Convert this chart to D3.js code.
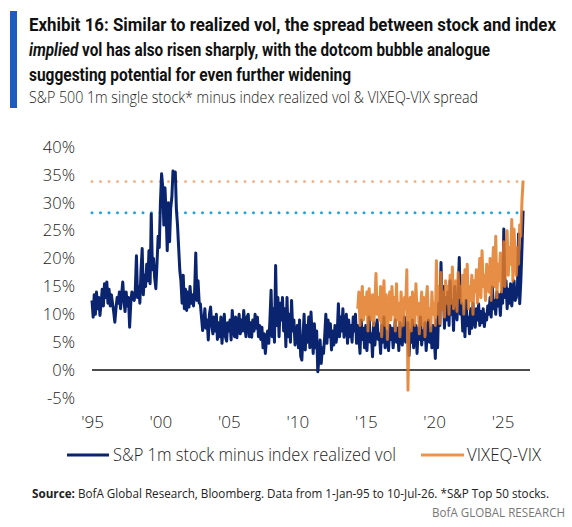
<!DOCTYPE html>
<html><head><meta charset="utf-8">
<script src="https://cdn.jsdelivr.net/npm/d3@7"></script>
<style>body{margin:0;background:#fff}svg{display:block}</style>
</head><body>
<svg id="c" width="572" height="527"></svg>
<script>
// ---------------- DATA ----------------
// Monthly, starting Jan-1995: S&P 1m single stock minus index realized vol (%)
const blueStartYear = 1995, blueStartMonth = 0;
const blueVals = [
  // 1995
  12.5, 9.5, 13.5, 10, 14, 11, 13, 9.8, 12, 14.5, 11.5, 15.5,
  // 1996
  13, 15.8, 12, 14.5, 11.5, 13.5, 12, 10.5, 8.6, 11, 13, 12,
  // 1997
  14, 11, 13.5, 15.8, 12.5, 10.5, 14, 11.5, 13, 7.7, 12, 14,
  // 1998
  13, 12.5, 14.3, 20.5, 13, 15, 12, 17.9, 21.8, 13.5, 17, 15,
  // 1999
  19, 16, 21.4, 15.5, 28, 18, 20, 16.5, 14.6, 19, 24, 22,
  // 2000
  30, 35.2, 33, 26, 32.7, 28, 21.4, 30, 23, 29, 31, 35.7,
  // 2001
  34, 35.5, 29, 26, 22, 17.9, 16, 12, 17, 11, 14.5, 10.7,
  // 2002
  14, 11.3, 15, 12, 13.5, 11.5, 14, 21, 12.5, 16, 12, 11.9,
  // 2003
  9.5, 7.1, 8.5, 11, 7.5, 9, 5.4, 10, 11.3, 8, 6.5, 9.5,
  // 2004
  7, 10, 5.5, 8.5, 6, 9.5, 4.8, 8, 10, 6, 5.2, 8.5,
  // 2005
  7, 9, 5.4, 10.7, 7.5, 6, 9.5, 5.8, 8, 10, 6.5, 9,
  // 2006
  7, 10.7, 8, 6, 9.5, 10, 6, 8.5, 5.9, 9, 7, 10,
  // 2007
  7.5, 9.5, 6, 8, 5.5, 7.7, 4, 6.5, 3, 5.5, 7, 4.8,
  // 2008
  9, 14.3, 6, 11, 5, 18.75, 8, 13, 6, 12, 9, 13,
  // 2009
  7, 11, 4.2, 13, 6, 10, 5, 12.5, 7, 9, 4.5, 6,
  // 2010
  8, 4, 9, 2.5, 1.8, 6, 10, 3.6, 8, 5, 9.5, 4,
  // 2011
  10.4, 6, 3, 8.3, 4, 7, -0.3, 2, 5.4, 1.2, 4, 3,
  // 2012
  6, 10, 4.8, 9, 6, 8.3, 3.6, 7, 4.5, 8, 5, 6.5,
  // 2013
  11.9, 6, 9.5, 7, 11, 5.9, 8.5, 10, 4.8, 9, 6, 8,
  // 2014
  5, 9.5, 7, 10, 4.8, 8, 6, 3, 9, 5.5, 7.5, 4,
  // 2015
  8, 3.5, 7, 9.5, 5, 6.5, 2.4, 8.5, 4.5, 7, 9, 5.5,
  // 2016
  6.5, 3, 8, 5, 9.5, 4, 7, 6, 3.5, 8, 5.5, 7.5,
  // 2017
  4, 6.5, 9, 5, 7.5, 3.5, 8.5, 6, 4.5, 7, 9.5, 5,
  // 2018
  6, 8.5, 2.6, 7, 5, 9, 4, 6.5, 8, 3, 7.5, 5.5,
  // 2019
  9.5, 4.5, 7, 5.5, 8.5, 3.5, 6.5, 9, 5, 7.5, 4, 8,
  // 2020
  6, 2.1, 9, 4, 12, 8, 19.3, 11, 15, 7.5, 13, 9,
  // 2021
  14, 8, 16, 10, 12.5, 7.1, 15, 11, 9, 13.5, 20.2, 10,
  // 2022
  12, 7, 10.5, 6, 12.5, 8, 9.5, 6.5, 11, 7.5, 12, 9,
  // 2023
  7.7, 11, 9, 11.9, 8, 10.5, 8.5, 11, 7.8, 10, 9, 11.5,
  // 2024
  10, 13, 9.5, 14.9, 11, 12.5, 10, 14, 11.5, 13.5, 9.8, 14,
  // 2025
  12, 25.3, 13, 16, 11, 14.5, 12, 15.5, 11.5, 14, 16, 12.5,
  // 2026
  13, 15, 24.4, 11.9, 16, 22, 28.6
];

// Monthly, starting Jun-2014: VIXEQ minus VIX (%)
const orangeStartYear = 2014, orangeStartMonth = 5;
const orangeVals = [
  // 2014 (Jun-Dec)
  11, 14, 8, 12.5, 15, 9, 13,
  // 2015
  10, 14, 7, 14.6, 11, 9, 13.5, 8, 12, 17.3, 10, 13,
  // 2016
  9, 15, 6, 12, 16, 8, 13.5, 5.5, 11, 14, 9, 15,
  // 2017
  10, 13, 7, 15.5, 9, 12, 6, 14, 10.5, 8, 13, 11,
  // 2018
  18, -3.6, 9, 13, 7, 14, 11, 8, 15.5, 10, 12, 6.5,
  // 2019
  11, 14, 8, 13, 6, 12.5, 15, 9, 11, 7, 14, 10,
  // 2020
  12, 8, 19.6, 10, 15, 8.3, 17.5, 11, 14, 9.5, 16, 12,
  // 2021
  15, 10, 17, 12, 18.5, 11, 14, 16, 10.5, 17.5, 13, 15,
  // 2022
  12, 17, 10, 18, 13, 19, 11, 15, 12.5, 17, 10, 16,
  // 2023
  14, 18, 12, 16, 20, 13, 21.4, 15, 17, 12.5, 19, 16,
  // 2024
  14, 20, 12.5, 18, 22, 15, 24, 13, 19, 16, 21, 14,
  // 2025
  18, 23, 15, 20, 25, 17, 22, 19, 27, 16, 25.3, 20,
  // 2026
  17, 22, 19, 26, 24, 30.4, 34
];

// Reference (dotted) levels, %
const vixeqRefLevel = 33.8;
const stockRefLevel = 28.2;

// Axis ticks
const yTicks = [-5, 0, 5, 10, 15, 20, 25, 30, 35, 40];
const xTickYears = [1995, 2000, 2005, 2010, 2015, 2020, 2025];

// Text
const titleLine1 = "Exhibit 16: Similar to realized vol, the spread between stock and index";
const titleLine2Italic = "implied";
const titleLine2Rest = " vol has also risen sharply, with the dotcom bubble analogue";
const titleLine3 = "suggesting potential for even further widening";
const subtitle = "S&P 500 1m single stock* minus index realized vol & VIXEQ-VIX spread";
const legendLabels = ["S&P 1m stock minus index realized vol", "VIXEQ-VIX"];
const sourceBold = "Source:";
const sourceRest = " BofA Global Research, Bloomberg. Data from 1-Jan-95 to 10-Jul-26. *S&P Top 50 stocks.";
const brand = "BofA GLOBAL RESEARCH";

// ---------------- STYLE ----------------
const NAVY = "#0a2470";
const ORANGE = "#e27a26";
const ORANGE_DOT = "#f3b48a";
const BLUE_DOT = "#22a3dc";
const BAR = "#1a5bc4";
const TEXT_FONT = "'Open Sans', 'Liberation Sans', sans-serif";
const TITLE_FONT = "'Liberation Sans Narrow', 'Roboto', 'Liberation Sans', sans-serif";

// ---------------- BUILD ----------------
const svg = d3.select("#c");

const blueData = blueVals.map((v, i) => ({date: new Date(blueStartYear, blueStartMonth + i, 1), v}));
const orangeData = orangeVals.map((v, i) => ({date: new Date(orangeStartYear, orangeStartMonth + i, 1), v}));
const dataEnd = new Date(2026, 6, 10);

const x = d3.scaleTime().domain([new Date(1995, 0, 1), new Date(2027, 0, 1)]).range([92, 530]);
const y = d3.scaleLinear().domain([-5, 40]).range([398, 147]);

const line = d3.line().x(d => x(d.date)).y(d => y(d.v));

// Title block
svg.append("rect").attr("x", 10).attr("y", 11).attr("width", 7).attr("height", 97).attr("fill", BAR);

svg.append("text").attr("x", 29).attr("y", 31)
  .attr("font-family", TITLE_FONT).attr("font-weight", 700).attr("font-size", 18.5).attr("fill", "#111")
  .attr("textLength", 527).attr("lengthAdjust", "spacingAndGlyphs").text(titleLine1);
const t2 = svg.append("text").attr("x", 29).attr("y", 56)
  .attr("font-family", TITLE_FONT).attr("font-weight", 700).attr("font-size", 18.5).attr("fill", "#111")
  .attr("textLength", 461).attr("lengthAdjust", "spacingAndGlyphs");
t2.append("tspan").attr("font-style", "italic").text(titleLine2Italic);
t2.append("tspan").text(titleLine2Rest);
svg.append("text").attr("x", 29).attr("y", 81)
  .attr("font-family", TITLE_FONT).attr("font-weight", 700).attr("font-size", 18.5).attr("fill", "#111")
  .attr("textLength", 322).attr("lengthAdjust", "spacingAndGlyphs").text(titleLine3);
svg.append("text").attr("x", 29).attr("y", 103)
  .attr("font-family", TEXT_FONT).attr("font-weight", 300).attr("font-size", 16.5).attr("fill", "#222")
  .attr("textLength", 449).attr("lengthAdjust", "spacingAndGlyphs").text(subtitle);

// Y axis labels
const yAxis = svg.append("g").attr("transform", "translate(75,0)")
  .call(d3.axisLeft(y).tickValues(yTicks).tickFormat(d => d + "%").tickSize(0).tickPadding(0));
yAxis.select(".domain").remove();
yAxis.selectAll("text").attr("font-family", TEXT_FONT).attr("font-weight", 300)
  .attr("font-size", 16.5).attr("fill", "#222");

// X axis labels
const xAxis = svg.append("g").attr("transform", "translate(0,422)")
  .call(d3.axisBottom(x).tickValues(xTickYears.map(yr => new Date(yr, 0, 1)))
    .tickFormat(d3.timeFormat("'%y")).tickSize(0).tickPadding(0));
xAxis.select(".domain").remove();
xAxis.selectAll("text").attr("y", 0).attr("dy", "0.35em")
  .attr("font-family", TEXT_FONT).attr("font-weight", 300).attr("font-size", 17).attr("fill", "#222");

// Dotted reference lines
svg.append("path")
  .datum([{date: x.domain()[0], v: vixeqRefLevel}, {date: dataEnd, v: vixeqRefLevel}])
  .attr("d", line).attr("fill", "none").attr("stroke", ORANGE_DOT)
  .attr("stroke-width", 3).attr("stroke-linecap", "round").attr("stroke-dasharray", "0 8.5");
svg.append("path")
  .datum([{date: x.domain()[0], v: stockRefLevel}, {date: new Date(2026, 3, 1), v: stockRefLevel}])
  .attr("d", line).attr("fill", "none").attr("stroke", BLUE_DOT)
  .attr("stroke-width", 3).attr("stroke-linecap", "round").attr("stroke-dasharray", "0 8.5");

// Zero line
svg.append("path")
  .datum([{date: x.domain()[0], v: 0}, {date: x.domain()[1], v: 0}])
  .attr("d", line).attr("fill", "none").attr("stroke", "#111").attr("stroke-width", 1.5);

// Series
svg.append("path").datum(blueData).attr("d", line).attr("fill", "none")
  .attr("stroke", NAVY).attr("stroke-width", 3).attr("stroke-linejoin", "round");
svg.append("path").datum(orangeData).attr("d", line).attr("fill", "none")
  .attr("stroke", ORANGE).attr("stroke-opacity", 0.85).attr("stroke-width", 3).attr("stroke-linejoin", "round");

// Legend
const legendItems = [
  {label: legendLabels[0], color: NAVY, op: 1, x0: 67, x1: 109, tx: 113, tw: 283},
  {label: legendLabels[1], color: ORANGE, op: 0.8, x0: 421, x1: 464, tx: 467, tw: 74}
];
const lg = svg.append("g").attr("transform", "translate(0,455)");
legendItems.forEach(it => {
  lg.append("line").attr("x1", it.x0).attr("x2", it.x1).attr("y1", 0).attr("y2", 0)
    .attr("stroke", it.color).attr("stroke-opacity", it.op).attr("stroke-width", 3);
  lg.append("text").attr("x", it.tx).attr("y", 0).attr("dy", "0.35em")
    .attr("font-family", TEXT_FONT).attr("font-weight", 300).attr("font-size", 18.5).attr("fill", "#222")
    .attr("textLength", it.tw).attr("lengthAdjust", "spacingAndGlyphs").text(it.label);
});

// Source
const src = svg.append("text").attr("x", 32).attr("y", 498)
  .attr("font-family", TEXT_FONT).attr("font-size", 13).attr("fill", "#222")
  .attr("textLength", 517).attr("lengthAdjust", "spacingAndGlyphs");
src.append("tspan").attr("font-weight", 700).text(sourceBold);
src.append("tspan").attr("font-weight", 400).text(sourceRest);

svg.append("text").attr("x", 565).attr("y", 517).attr("text-anchor", "end")
  .attr("font-family", TEXT_FONT).attr("font-size", 13).attr("fill", "#777")
  .attr("textLength", 133).attr("lengthAdjust", "spacingAndGlyphs").text(brand);
</script>
</body></html>
